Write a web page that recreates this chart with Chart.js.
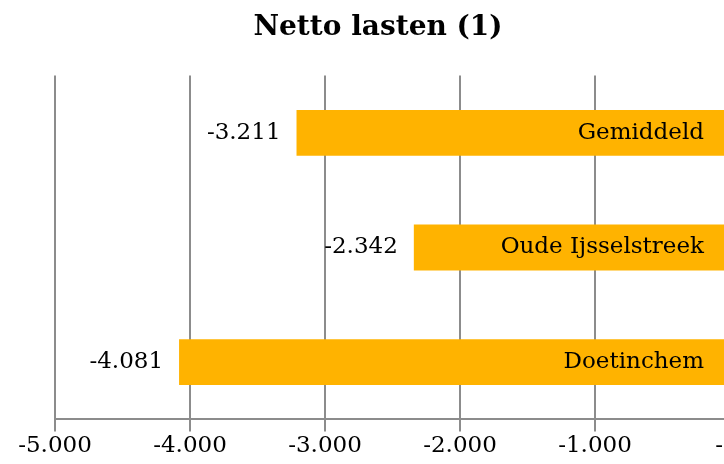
<!DOCTYPE html>
<html>
<head>
<meta charset="utf-8">
<script src="https://cdn.jsdelivr.net/npm/chart.js@4.4.1/dist/chart.umd.min.js"></script>
<style>
  html, body { margin: 0; padding: 0; overflow: hidden; background: #fff; }
  #wrap { width: 756px; height: 464px; }
</style>
</head>
<body>
<div id="wrap"><canvas id="chart" width="756" height="464"></canvas></div>
<script>
const categories = ['Gemiddeld', 'Oude Ijsselstreek', 'Doetinchem'];
const nettoLasten = [-3211, -2342, -4081];
const xTicks = [-5000, -4000, -3000, -2000, -1000, 0];

const serif = 'DejaVu Serif';

function fmt(v){
    if (v === 0) return '-   ';
    let s = Math.abs(v).toString().replace(/\B(?=(\d{3})+(?!\d))/g, '.');
    return (v < 0 ? '-' : '') + s;
}

// labels: value left of the bar, category name inside the bar
const barLabels = {
    id: 'barLabels',
    afterDatasetsDraw(chart){
        const ctx = chart.ctx;
        const meta = chart.getDatasetMeta(0);
        ctx.save();
        ctx.font = '23px "' + serif + '"';
        ctx.fillStyle = '#000';
        ctx.textBaseline = 'middle';
        ctx.textAlign = 'right';
        meta.data.forEach((bar, i) => {
            ctx.fillText(fmt(nettoLasten[i]), bar.x - 16, bar.y);
            ctx.fillText(categories[i], bar.base - 25, bar.y);
        });
        ctx.restore();
    }
};

new Chart('chart', {
    type: 'bar',
    data: {
        labels: categories,
        datasets: [{
            data: nettoLasten,
            yAxisID: 'y',
            backgroundColor: '#FFB300',
            borderWidth: 0,
            barPercentage: 0.4,
            categoryPercentage: 1
        }]
    },
    options: {
        indexAxis: 'y',
        responsive: false,
        animation: false,
        layout: { padding: { left: 0, right: 0, top: 0, bottom: 3 } },
        plugins: {
            legend: { display: false },
            tooltip: { enabled: false },
            title: {
                display: true,
                text: 'Netto lasten (1)',
                color: '#000',
                font: { family: serif, size: 28, weight: 'bold' },
                padding: { top: 11, bottom: 31 }
            }
        },
        scales: {
            y: {
                position: 'right',
                offset: true,
                ticks: { display: false },
                grid: { display: false },
                border: { display: false },
                afterFit: (s) => { s.width = 26; }
            },
            yLeft: {
                type: 'category',
                position: 'left',
                ticks: { display: false },
                grid: { display: false },
                border: { display: false },
                afterFit: (s) => { s.width = 55; }
            },
            x: {
                min: -5000,
                max: 0,
                afterBuildTicks: (axis) => { axis.ticks = xTicks.map(v => ({ value: v })); },
                ticks: {
                    color: '#000',
                    padding: 1,
                    font: { family: serif, size: 23 },
                    callback: (v) => fmt(v)
                },
                grid: { color: '#8c8c8c', lineWidth: 2, tickLength: 12 },
                border: { color: '#8c8c8c', width: 2 }
            }
        }
    },
    plugins: [barLabels]
});
</script>
</body>
</html>
